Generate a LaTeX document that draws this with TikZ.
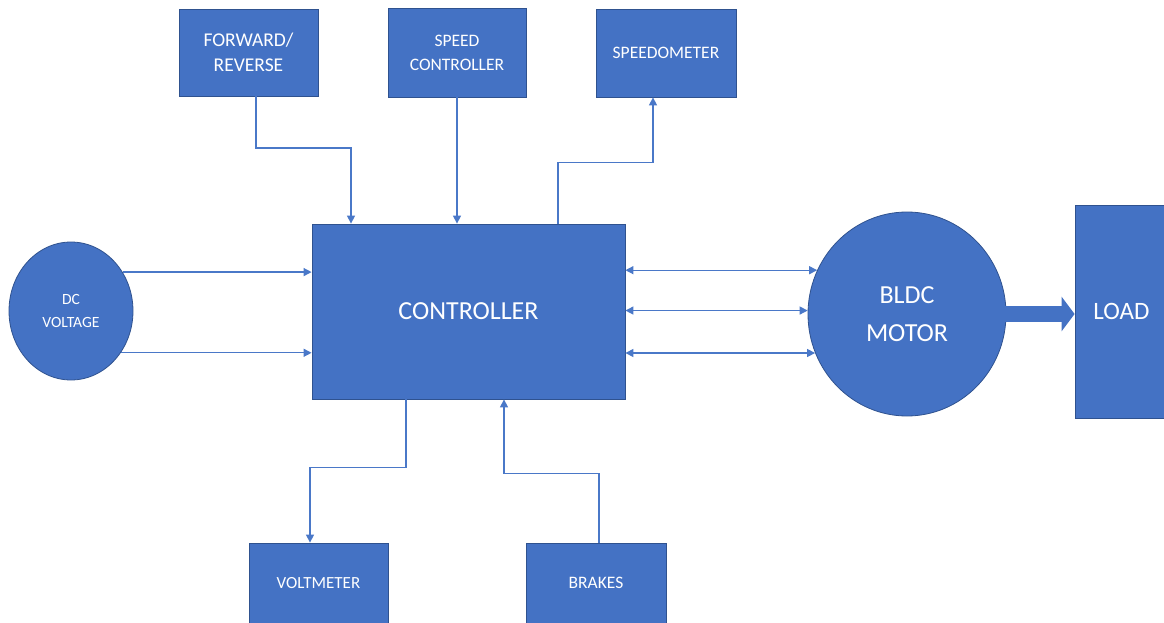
\documentclass[tikz,border=0pt]{standalone}
\usepackage{fontspec}
\setmainfont{Carlito}
\usetikzlibrary{arrows.meta,shapes.geometric,calc}
\definecolor{boxblue}{HTML}{4472C4}
\definecolor{edgeblue}{HTML}{2F528F}
\definecolor{lineblue}{HTML}{4A78C8}
\tikzset{
  blk/.style={rectangle, fill=boxblue, draw=edgeblue, line width=0.8pt, text=white, align=center, inner sep=0pt},
  oval/.style={ellipse, fill=boxblue, draw=edgeblue, line width=0.8pt, text=white, align=center, inner sep=0pt},
  conn/.style={draw=lineblue, line width=1.3pt, -{Triangle[length=8pt,width=8pt]}},
  conn2/.style={draw=lineblue, line width=1.3pt, {Triangle[length=8pt,width=8pt]}-{Triangle[length=8pt,width=8pt]}},
  bigarrow/.style={draw=boxblue, line width=16pt, -{Triangle[length=13pt,width=34pt]}},
}
\begin{document}
\begin{tikzpicture}[x=1pt,y=-1pt]
\useasboundingbox (0,0) rectangle (1164,623);
% nodes
\node[blk, minimum width=139pt, minimum height=87pt, font=\fontsize{19.5}{25}\selectfont] (fr) at (248.5,52.5) {FORWARD/\\REVERSE};
\node[blk, minimum width=138pt, minimum height=89pt, font=\fontsize{17.5}{24}\selectfont] (sc) at (457,52.5) {SPEED\\CONTROLLER};
\node[blk, minimum width=140pt, minimum height=88pt, font=\fontsize{17.5}{21}\selectfont] (sm) at (666,53) {SPEEDOMETER};
\node[blk, minimum width=313pt, minimum height=175pt, font=\fontsize{26}{30}\selectfont] (ctl) at (468.5,311.5) {CONTROLLER};
\node[oval, minimum width=124pt, minimum height=138pt, font=\fontsize{15.6}{23}\selectfont] (dc) at (71,311) {DC\\VOLTAGE};
\node[oval, minimum width=198pt, minimum height=204pt, font=\fontsize{26}{38}\selectfont] (bldc) at (907,314) {BLDC\\MOTOR};
\node[blk, minimum width=93pt, minimum height=213pt, font=\fontsize{25}{30}\selectfont] (load) at (1121.5,311.5) {LOAD};
\node[blk, minimum width=139pt, minimum height=80pt, font=\fontsize{17}{21}\selectfont] (vm) at (318.5,583) {VOLTMETER};
\node[blk, minimum width=140pt, minimum height=80pt, font=\fontsize{17.5}{21}\selectfont] (br) at (596,583) {BRAKES};
% connectors
\draw[conn] ([xshift=7.5pt]fr.south) -- ++(0,51.5) -| ([xshift=-117.5pt]ctl.north);
\draw[conn] (sc.south) -- (sc.south |- ctl.north);
\draw[conn] ([xshift=89.5pt]ctl.north) -- ++(0,-61) -| ([xshift=-13pt]sm.south);
\draw[conn] (dc.37) -- (dc.37 -| ctl.west);
\draw[conn] (dc.-40) -- (dc.-40 -| ctl.west);
\draw[conn2] (ctl.east |- bldc.154) -- (bldc.154);
\draw[conn2] (ctl.east |- bldc.178) -- (bldc.178);
\draw[conn2] (ctl.east |- bldc.-157.5) -- (bldc.-157.5);
\draw[conn] ([xshift=-62.5pt]ctl.south) -- ++(0,68) -| ([xshift=-8.5pt]vm.north);
\draw[conn] ([xshift=3pt]br.north) -- ++(0,-69) -| ([xshift=35.5pt]ctl.south);
\draw[bigarrow] ([xshift=-3pt]bldc.east) -- (bldc.east -| load.west);
\end{tikzpicture}
\end{document}
